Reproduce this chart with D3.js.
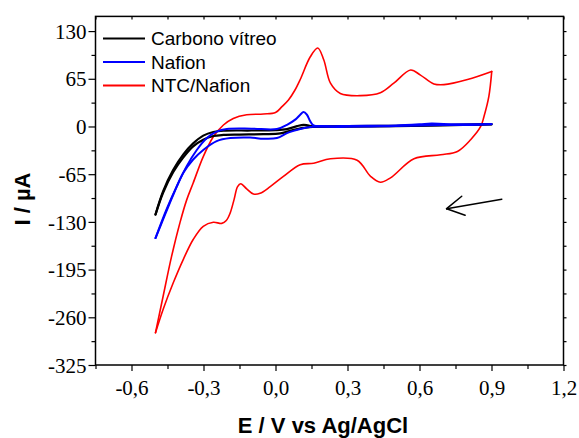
<!DOCTYPE html>
<html>
<head>
<meta charset="utf-8">
<script src="https://cdn.jsdelivr.net/npm/d3@7/dist/d3.min.js"></script>
<style>
html,body{margin:0;padding:0;background:#fff;}
svg{display:block;}
</style>
</head>
<body>
<svg id="chart" width="579" height="438"></svg>
<script>
// ---------- DATA ----------
const seriesNames = ["Carbono vítreo", "Nafion", "NTC/Nafion"];
const seriesColors = ["#000000", "#0000ff", "#ff0000"];

const xMajorTicks = [-0.6, -0.3, 0.0, 0.3, 0.6, 0.9, 1.2];
const xTickLabels = ["-0,6", "-0,3", "0,0", "0,3", "0,6", "0,9", "1,2"];
const xMinorTicks = [-0.75, -0.45, -0.15, 0.15, 0.45, 0.75, 1.05];
const yMajorTicks = [130, 65, 0, -65, -130, -195, -260, -325];
const yTickLabels = ["130", "65", "0", "-65", "-130", "-195", "-260", "-325"];
const yMinorTicks = [97.5, 32.5, -32.5, -97.5, -162.5, -227.5, -292.5];

// Carbono vítreo (black): anodic sweep then cathodic sweep, [E (V), I (µA)]
const gcForward = [[-0.5,-120],[-0.468,-88],[-0.426,-59],[-0.384,-38],[-0.343,-23],[-0.301,-12.5],[-0.259,-7.5],[-0.217,-5.8],[-0.1,-5.5],[0.0,-5],[0.048,-3.5],[0.09,0.5],[0.117,2.3],[0.135,1.5],[0.155,0.2],[0.3,0.4],[0.5,1],[0.7,2],[0.9,3.3]];
const gcReverse = [[0.9,2.8],[0.7,1.5],[0.5,0.5],[0.3,-0.2],[0.155,-0.4],[0.117,-2],[0.1,-3],[0.06,-6],[0.02,-9.5],[-0.05,-10.5],[-0.15,-11],[-0.217,-11.5],[-0.259,-13],[-0.301,-18],[-0.343,-27],[-0.384,-42],[-0.426,-62],[-0.468,-90],[-0.5,-120]];

// Nafion (blue)
const nafForward = [[-0.5,-152],[-0.454,-113],[-0.412,-82],[-0.370,-54],[-0.328,-32],[-0.287,-16],[-0.245,-7],[-0.203,-3.5],[-0.1,-3],[0.006,-3.5],[0.048,2.3],[0.085,10],[0.103,16],[0.117,19.6],[0.131,16],[0.145,7],[0.159,1.4],[0.2,0.6],[0.3,0.6],[0.4,1],[0.5,1.5],[0.6,3],[0.65,4],[0.7,3.5],[0.8,3],[0.9,3.5]];
const nafReverse = [[0.9,3],[0.8,2],[0.7,2],[0.6,1.5],[0.5,0.5],[0.4,0],[0.3,-0.5],[0.2,-0.5],[0.159,-0.5],[0.131,-1.4],[0.103,-3.5],[0.075,-6],[0.048,-9],[0.006,-15.8],[-0.05,-16.7],[-0.106,-15],[-0.189,-15.8],[-0.245,-20],[-0.301,-32],[-0.343,-45],[-0.384,-63],[-0.426,-93],[-0.47,-128],[-0.5,-152]];

// NTC/Nafion (red)
const ntcForward = [[-0.5,-281],[-0.468,-231],[-0.433,-177],[-0.398,-131],[-0.370,-100],[-0.343,-77],[-0.301,-41],[-0.259,-14],[-0.217,2],[-0.176,11],[-0.120,16],[-0.050,17],[0.0,19],[0.027,27],[0.054,36],[0.08,49],[0.103,64],[0.145,95],[0.176,107],[0.201,91],[0.229,59],[0.270,45],[0.354,42],[0.437,46],[0.493,59],[0.563,77],[0.604,70],[0.660,58],[0.702,57],[0.800,64],[0.901,75]];
const ntcReverse = [[0.901,75],[0.889,41],[0.869,14],[0.855,0],[0.813,-18],[0.758,-34],[0.688,-38.5],[0.577,-44],[0.479,-70],[0.437,-76],[0.396,-68],[0.340,-46],[0.229,-44],[0.159,-50],[0.103,-52],[0.033,-68],[-0.022,-82],[-0.064,-91],[-0.092,-92],[-0.120,-85],[-0.145,-78],[-0.158,-82],[-0.173,-100],[-0.189,-118],[-0.205,-128],[-0.224,-132],[-0.259,-130.5],[-0.301,-136],[-0.343,-154],[-0.384,-181],[-0.426,-213],[-0.468,-249],[-0.5,-281]];

// Scan-direction arrow: [tail, tip, arm1, arm2] in data units
const arrowTail = [0.943, -99];
const arrowTip = [0.713, -112];
const arrowArm1 = [0.776, -95];
const arrowArm2 = [0.790, -121];

// ---------- CHART ----------
const svg = d3.select("#chart");
const L = 95.5, R = 563.5, T = 16.4, B = 365;
const x = d3.scaleLinear().domain([-0.75, 1.2]).range([L, R]);
const y = d3.scaleLinear().domain([-325, 150]).range([B, T]);

const serif = '"Liberation Serif"';
const sans = '"Liberation Sans"';

// Axes (bottom)
const gB = svg.append("g").attr("transform", `translate(0,${B})`);
gB.call(d3.axisBottom(x).tickValues(xMajorTicks).tickSize(6).tickFormat((d,i)=>xTickLabels[i]));
gB.append("g").call(d3.axisBottom(x).tickValues(xMinorTicks).tickSize(4).tickFormat(""));
// left
const gL = svg.append("g").attr("transform", `translate(${L},0)`);
gL.call(d3.axisLeft(y).tickValues(yMajorTicks).tickSize(7).tickFormat((d,i)=>yTickLabels[i]));
gL.append("g").call(d3.axisLeft(y).tickValues(yMinorTicks).tickSize(4).tickFormat(""));
// top (inward)
const gT = svg.append("g").attr("transform", `translate(0,${T})`);
gT.call(d3.axisBottom(x).tickValues(xMajorTicks.concat(xMinorTicks)).tickSize(3).tickFormat(""));
// right (outward)
const gR = svg.append("g").attr("transform", `translate(${R},0)`);
gR.call(d3.axisRight(y).tickValues(yMajorTicks.concat(yMinorTicks)).tickSize(3).tickFormat(""));

[gB, gL, gT, gR].forEach(g => g.attr("font-family", null).attr("font-size", null));
svg.selectAll(".domain").remove();
svg.selectAll(".tick line").attr("stroke", "#000").attr("stroke-width", 1.2);
svg.selectAll(".tick text").style("font-family", serif).style("font-size", "21px").attr("fill", "#000");
gB.selectAll(".tick text").attr("dy", null).attr("y", 30);
gL.selectAll(".tick text").attr("x", -9).attr("dy", "0.34em");

// frame
svg.append("rect").attr("x", L).attr("y", T).attr("width", R - L).attr("height", B - T)
  .attr("fill", "none").attr("stroke", "#000").attr("stroke-width", 1.5);

// curves
const line = d3.line().x(d => x(d[0])).y(d => y(d[1])).curve(d3.curveCatmullRom.alpha(0.5));
const loops = [
  {f: gcForward, r: gcReverse, c: seriesColors[0], w: 2.2},
  {f: nafForward, r: nafReverse, c: seriesColors[1], w: 2.0},
  {f: ntcForward, r: ntcReverse, c: seriesColors[2], w: 1.6}
];
const plot = svg.append("g");
[loops[2], loops[0], loops[1]].forEach(s => {
  [s.f, s.r].forEach(arr => {
    plot.append("path").attr("d", line(arr)).attr("fill", "none")
      .attr("stroke", s.c).attr("stroke-width", s.w).attr("stroke-linejoin", "round").attr("stroke-linecap", "round");
  });
});

// arrow
const arrowPts = [[arrowTail, arrowTip], [arrowArm1, arrowTip], [arrowArm2, arrowTip]];
arrowPts.forEach(p => {
  svg.append("line").attr("x1", x(p[0][0])).attr("y1", y(p[0][1]))
    .attr("x2", x(p[1][0])).attr("y2", y(p[1][1]))
    .attr("stroke", "#000").attr("stroke-width", 1.5).attr("stroke-linecap", "round");
});

// legend
const leg = svg.append("g");
seriesNames.forEach((n, i) => {
  const yy = 38.5 + i * 23.5;
  leg.append("line").attr("x1", 103).attr("x2", 145).attr("y1", yy).attr("y2", yy)
    .attr("stroke", seriesColors[i]).attr("stroke-width", 1.8);
  leg.append("text").attr("x", 151).attr("y", yy + 6.8).text(n)
    .style("font-family", sans).style("font-size", "19px").attr("fill", "#000");
});

// axis titles
svg.append("text").attr("x", 323).attr("y", 433).attr("text-anchor", "middle")
  .style("font-family", sans).style("font-weight", "bold").style("font-size", "22px").text("E / V vs Ag/AgCl");
svg.append("text").attr("transform", `translate(30,199) rotate(-90)`).attr("text-anchor", "middle")
  .style("font-family", sans).style("font-weight", "bold").style("font-size", "22px").text("I / µA");
</script>
</body>
</html>
